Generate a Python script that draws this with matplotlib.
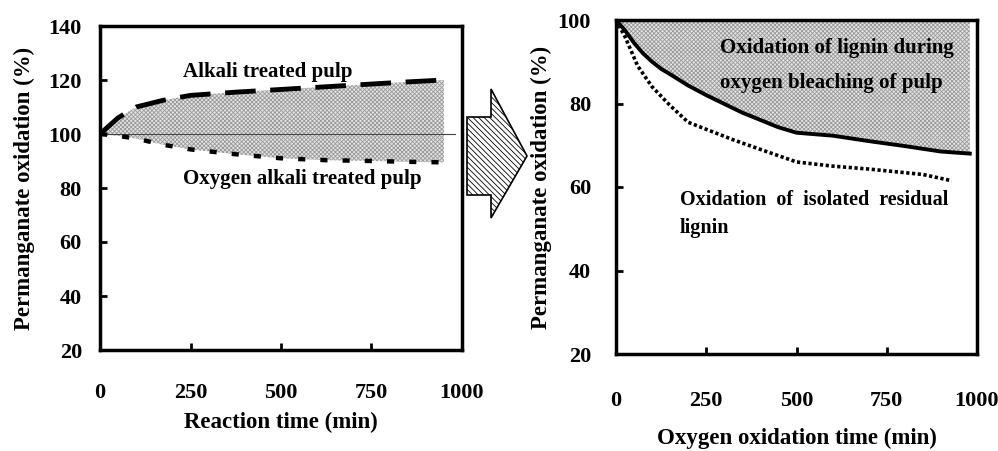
import matplotlib
matplotlib.use("Agg")
import matplotlib.pyplot as plt
from matplotlib.patches import Polygon

# ---------------- data ----------------
# Left panel: reaction time (min) vs permanganate oxidation (%)
alk_x = [0, 50, 100, 175, 250, 375, 500, 625, 750, 850, 950]
alk_y = [100, 106, 110, 112.5, 114.3, 115.5, 116.5, 117.5, 118.5, 119.3, 120]
oxa_x = [0, 50, 100, 175, 250, 375, 500, 625, 750, 850, 950]
oxa_y = [100, 99.3, 98.3, 96, 94.3, 92.5, 91, 90.3, 90, 89.7, 89.5]

# Right panel: oxygen oxidation time (min)
pulp_x = [0, 25, 50, 75, 100, 125, 150, 200, 250, 350, 450, 500, 600, 700, 800, 900, 980]
pulp_y = [100, 97.5, 94.5, 92, 90, 88.3, 87, 84.3, 82, 77.8, 74.3, 73, 72.3, 71, 69.8, 68.5, 68]
iso_x = [0, 25, 60, 100, 150, 200, 325, 400, 500, 600, 700, 850, 930]
iso_y = [100, 96, 89, 84, 79.5, 75.5, 71.3, 69, 66, 65, 64.3, 63, 61.5]

x_ticks = [0, 250, 500, 750, 1000]
left_yticks = [20, 40, 60, 80, 100, 120, 140]
right_yticks = [20, 40, 60, 80, 100]

# ---------------- style ----------------
plt.rcParams['font.family'] = ['Liberation Serif', 'DejaVu Serif']
plt.rcParams['font.weight'] = 'bold'
plt.rcParams['hatch.linewidth'] = 0.6

W, H = 998, 451
fig = plt.figure(figsize=(W / 100, H / 100), dpi=100)

def px_axes(x0, y0, x1, y1):
    return fig.add_axes([x0 / W, 1 - y1 / H, (x1 - x0) / W, (y1 - y0) / H])

ax1 = px_axes(100, 26, 462, 350)
ax2 = px_axes(616, 20, 977, 354)

for ax in (ax1, ax2):
    for s in ax.spines.values():
        s.set_linewidth(2.5)
    ax.tick_params(direction='in', length=5, width=2, labelsize=16)
    for lab in ax.get_xticklabels() + ax.get_yticklabels():
        lab.set_fontweight('bold')

shade_kw = dict(facecolor='#e4e4e4', edgecolor='#999999', hatch='xxxxxxxx', linewidth=0, zorder=1)

# ---- left panel ----
ax1.fill_between(alk_x, oxa_y, alk_y, **shade_kw)
ax1.axhline(100, xmin=0, xmax=0.98, color='#444444', lw=0.8, zorder=2)
ax1.plot(alk_x, alk_y, color='black', lw=3.5, dashes=(6.3, 3), zorder=3)
ax1.plot(oxa_x, oxa_y, color='black', lw=3.2, dashes=(1.6, 3.4), zorder=3)
ax1.set_xlim(0, 1000)
ax1.set_ylim(20, 140)
ax1.set_xticks(x_ticks)
ax1.set_yticks(left_yticks)
ax1.tick_params(axis='x', pad=24)
ax1.tick_params(axis='y', pad=13)
ax1.set_xlabel('Reaction time (min)', fontsize=16.5, fontweight='bold')
ax1.set_ylabel('Permanganate oxidation (%)', fontsize=16.5, fontweight='bold')
ax1.xaxis.set_label_coords(0.5, -0.19)
ax1.yaxis.set_label_coords(-0.18, 0.5)
ax1.text(229, 123, 'Alkali treated pulp', fontsize=15, fontweight='bold', va='center', ha='left')
ax1.text(229, 83.5, 'Oxygen alkali treated pulp', fontsize=15, fontweight='bold', va='center', ha='left')

# ---- right panel ----
ax2.fill_between(pulp_x, pulp_y, 100, **shade_kw)
ax2.plot(pulp_x, pulp_y, color='black', lw=2.8, zorder=3)
ax2.plot(iso_x, iso_y, color='black', lw=2.6, dashes=(0.9, 0.7), zorder=3)
ax2.set_xlim(0, 1000)
ax2.set_ylim(20, 100)
ax2.set_xticks(x_ticks)
ax2.set_yticks(right_yticks)
ax2.tick_params(axis='x', pad=27)
ax2.tick_params(axis='y', pad=18)
ax2.set_xlabel('Oxygen oxidation time (min)', fontsize=16.5, fontweight='bold')
ax2.set_ylabel('Permanganate oxidation (%)', fontsize=16.5, fontweight='bold')
ax2.xaxis.set_label_coords(0.5, -0.222)
ax2.yaxis.set_label_coords(-0.177, 0.5)
ax2.text(288, 93.3, 'Oxidation of lignin during', fontsize=15, fontweight='bold', va='center', ha='left', zorder=4)
ax2.text(288, 84.9, 'oxygen bleaching of pulp', fontsize=15, fontweight='bold', va='center', ha='left', zorder=4)
ax2.text(177, 56.9, 'Oxidation  of  isolated  residual', fontsize=14.5, fontweight='bold', va='center', ha='left')
ax2.text(177, 50.2, 'lignin', fontsize=14.5, fontweight='bold', va='center', ha='left')

# ---- block arrow between panels ----
arrow_px = [(467, 117), (491, 117), (491, 89), (527, 156), (491, 218), (491, 195), (467, 195)]
arrow = Polygon([(x / W, 1 - y / H) for x, y in arrow_px], closed=True,
                transform=fig.transFigure, facecolor='white', edgecolor='black',
                hatch='\\\\\\\\\\\\', linewidth=1.2)
fig.patches.append(arrow)

fig.savefig('out.png', dpi=100)
